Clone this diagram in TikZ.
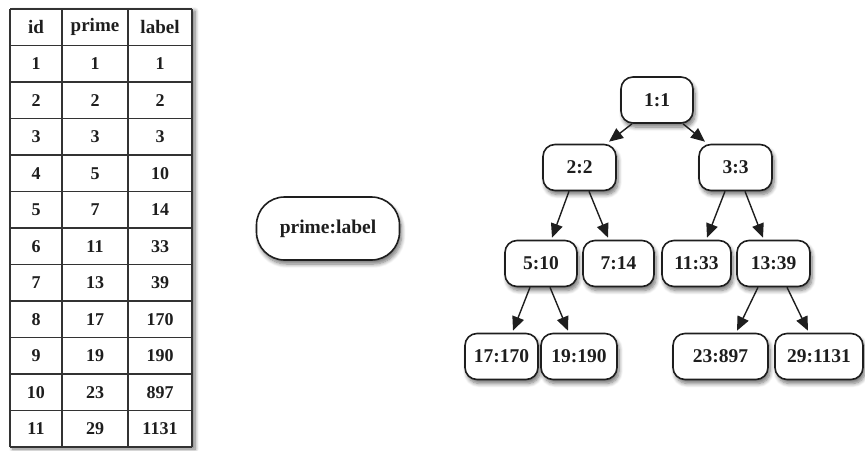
\documentclass[tikz,border=0pt]{standalone}
\usepackage{fontspec}
\setmainfont{Liberation Serif}
\usetikzlibrary{arrows.meta,shadows.blur}
\definecolor{ink}{HTML}{1E1E1E}
\definecolor{rule}{HTML}{333333}
\tikzset{
  tline/.style={draw=rule, line width=1.8pt},
  hcell/.style={text=ink, inner sep=0pt, font=\fontsize{19}{22}\selectfont\bfseries},
  bcell/.style={text=ink, inner sep=0pt, font=\fontsize{18}{21}\selectfont\bfseries},
  tn/.style={draw=ink, line width=1.6pt, rounded corners=12pt, fill=white,
    minimum height=46pt, inner sep=0pt, text=ink,
    font=\fontsize{19.5}{22}\selectfont\bfseries,
    blur shadow={shadow xshift=2pt, shadow yshift=-4pt, shadow blur steps=7, shadow blur radius=4pt, shadow opacity=55}},
  edge/.style={draw=ink, line width=1.4pt, -{Triangle[length=14pt,width=12pt]}}
}
\begin{document}
\begin{tikzpicture}[x=1pt,y=-1pt]
\useasboundingbox (0,0) rectangle (865,450);
% table
\path[fill=white, blur shadow={shadow xshift=3pt, shadow yshift=-2pt, shadow blur steps=7, shadow blur radius=4pt, shadow opacity=55}] (10,9) rectangle (192,447);
\foreach \xx in {10,62,128,192} \draw[tline] (\xx,9) -- (\xx,447);
\foreach \k in {0,...,12} \draw[tline] (10,{9+36.5*\k}) -- (192,{9+36.5*\k});
\node[hcell] (hid) at (36,27.25) {id};
\node[hcell] (hprime) at (95,27.25) {prime};
\node[hcell] (hlabel) at (160,27.25) {label};
\foreach \i/\p/\l [count=\k] in {1/1/1,2/2/2,3/3/3,4/5/10,5/7/14,6/11/33,7/13/39,8/17/170,9/19/190,10/23/897,11/29/1131}{
  \node[bcell] (id\k) at (36,{27.25+36.5*\k}) {\i};
  \node[bcell] (pr\k) at (95,{27.25+36.5*\k}) {\p};
  \node[bcell] (lb\k) at (160,{27.25+36.5*\k}) {\l};
}
% legend node
\node[tn, rounded corners=28pt, minimum width=143pt, minimum height=63pt] (legend) at (328,228.5) {prime:label};
% tree
\node[tn, minimum width=72pt] (n1) at (657,100) {1:1};
\node[tn, minimum width=73pt] (n2) at (579.5,167.5) {2:2};
\node[tn, minimum width=73pt] (n3) at (735.5,167.5) {3:3};
\node[tn, minimum width=72pt] (n5) at (541,263.5) {5:10};
\node[tn, minimum width=71pt] (n7) at (618.5,263.5) {7:14};
\node[tn, minimum width=69pt] (n11) at (696.5,263.5) {11:33};
\node[tn, minimum width=73pt] (n13) at (773.5,263.5) {13:39};
\node[tn, minimum width=73pt] (n17) at (501.5,356.5) {17:170};
\node[tn, minimum width=76pt] (n19) at (579,356.5) {19:190};
\node[tn, minimum width=95pt] (n23) at (720.5,356.5) {23:897};
\node[tn, minimum width=88pt] (n29) at (819,356.5) {29:1131};
% edges
\draw[edge] ([xshift=-25pt]n1.south) -- ([xshift=29.5pt,yshift=2pt]n2.north);
\draw[edge] ([xshift=26pt]n1.south) -- ([xshift=-30.5pt,yshift=2pt]n3.north);
\draw[edge] ([xshift=-10.5pt]n2.south) -- ([xshift=11pt,yshift=2pt]n5.north);
\draw[edge] ([xshift=9.5pt]n2.south) -- ([xshift=-10.5pt,yshift=2pt]n7.north);
\draw[edge] ([xshift=-10.5pt]n3.south) -- ([xshift=10.5pt,yshift=2pt]n11.north);
\draw[edge] ([xshift=9.5pt]n3.south) -- ([xshift=-10.5pt,yshift=2pt]n13.north);
\draw[edge] ([xshift=-11pt]n5.south) -- ([xshift=11.5pt,yshift=2pt]n17.north);
\draw[edge] ([xshift=9pt]n5.south) -- ([xshift=-11pt,yshift=2pt]n19.north);
\draw[edge] ([xshift=-15.5pt]n13.south) -- ([xshift=16.5pt,yshift=2pt]n23.north);
\draw[edge] ([xshift=13.5pt]n13.south) -- ([xshift=-11pt,yshift=2pt]n29.north);
\end{tikzpicture}
\end{document}
